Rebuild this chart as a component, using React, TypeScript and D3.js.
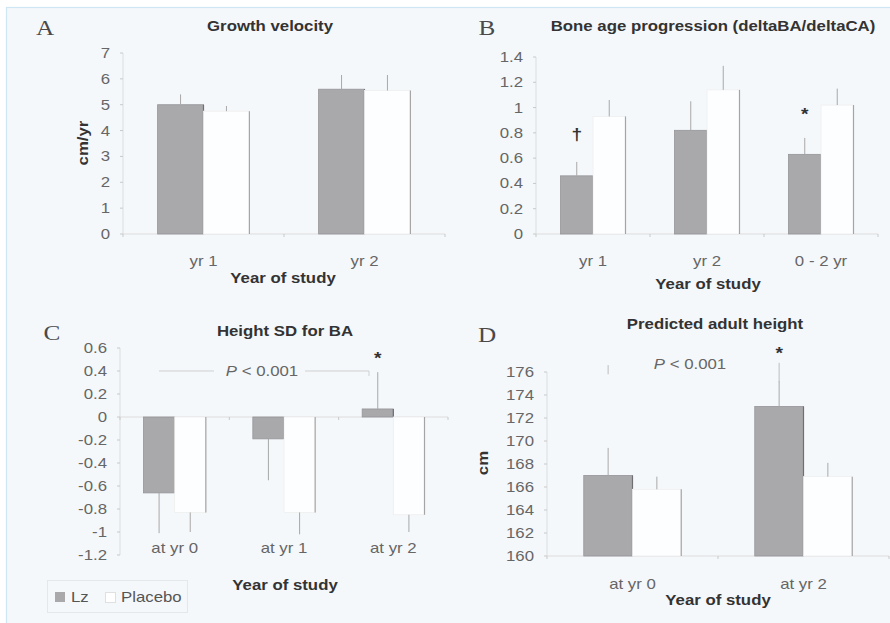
import * as d3 from 'd3';
import React from 'react';

const seriesNames = ['Lz', 'Placebo'];

// A - growth velocity (cm/yr)
const catsA = ['yr 1', 'yr 2'];
const lzA = [5.0, 5.6];
const lzErrA = [0.4, 0.55];
const plA = [4.75, 5.55];
const plErrA = [0.2, 0.6];
const ticksA = [0, 1, 2, 3, 4, 5, 6, 7];
const marksA = ['', ''];

// B - bone age progression
const catsB = ['yr 1', 'yr 2', '0 - 2 yr'];
const lzB = [0.46, 0.82, 0.63];
const lzErrB = [0.11, 0.23, 0.13];
const plB = [0.93, 1.14, 1.02];
const plErrB = [0.13, 0.19, 0.13];
const ticksB = [0, 0.2, 0.4, 0.6, 0.8, 1, 1.2, 1.4];
const marksB = ['†', '', '*'];

// C - height SD for BA
const catsC = ['at yr 0', 'at yr 1', 'at yr 2'];
const lzC = [-0.66, -0.19, 0.07];
const lzErrC = [0.35, 0.36, 0.32];
const plC = [-0.83, -0.83, -0.85];
const plErrC = [0.17, 0.19, 0.15];
const ticksC = [0.6, 0.4, 0.2, 0, -0.2, -0.4, -0.6, -0.8, -1, -1.2];
const marksC = ['', '', '*'];

// D - predicted adult height (cm)
const catsD = ['at yr 0', 'at yr 2'];
const lzD = [167.0, 173.0];
const lzErrD = [2.4, 2.2];
const plD = [165.8, 166.9];
const plErrD = [1.1, 1.2];
const lzFaintD = [[175.8, 176.6], [175.1, 176.8]];
const ticksD = [160, 162, 164, 166, 168, 170, 172, 174, 176];
const marksD = ['', '*'];

const SANS = '"Liberation Sans", Arial, sans-serif';
const SERIF = '"Liberation Serif", "DejaVu Serif", serif';
const SX = 1.2;
const LZ_FILL = '#a9a9ac';
const BG = '#f5f8fb';

function T({ x, y, size = 14, anchor = 'middle', weight = 'normal', fill = '#555', family = SANS, rotate = 0, style = 'normal', children }: any) {
  return (
    <text
      transform={`translate(${x},${y}) rotate(${rotate}) scale(${SX},1)`}
      textAnchor={anchor}
      fontFamily={family}
      fontSize={size}
      fontWeight={weight}
      fontStyle={style}
      fill={fill}
    >
      {children}
    </text>
  );
}

function Panel({ cfg }: any) {
  const x0 = d3.scaleBand<string>().domain(cfg.cats).range(cfg.xr).paddingInner(0.43).paddingOuter(0.215);
  const x1 = d3.scaleBand<string>().domain(seriesNames).range([0, x0.bandwidth()]);
  const y = d3.scaleLinear().domain(cfg.domain).range(cfg.yr);
  const base = Math.max(cfg.domain[0], Math.min(0, cfg.domain[1]));
  const bw = x1.bandwidth();
  const series = [
    { name: 'Lz', vals: cfg.lz, errs: cfg.lzErr },
    { name: 'Placebo', vals: cfg.pl, errs: cfg.plErr },
  ];
  const fmt = (d: number) => String(Math.round(d * 10) / 10);
  const step = x0.step();
  const bounds = d3.range(cfg.cats.length + 1).map((i) => cfg.xr[0] + i * step);

  return (
    <g>
      {/* axes */}
      <line x1={cfg.xr[0]} x2={cfg.xr[0]} y1={cfg.yr[0]} y2={cfg.yr[1]} stroke="#dcdcdc" />
      {cfg.ticks.map((t: number) => (
        <g key={t}>
          <line x1={cfg.xr[0] - 3} x2={cfg.xr[0]} y1={y(t)} y2={y(t)} stroke="#c8c8c8" />
          <T x={cfg.xr[0] - 13} y={y(t) + 5} anchor="end" fill="#666">{fmt(t)}</T>
        </g>
      ))}
      <line x1={cfg.xr[0]} x2={cfg.xr[1]} y1={y(base)} y2={y(base)} stroke="#dcdcdc" />
      {bounds.map((b: number, i: number) => (
        <line key={i} x1={b} x2={b} y1={y(base)} y2={y(base) + 3} stroke="#c8c8c8" />
      ))}

      {/* bars */}
      {series.map((s) =>
        cfg.cats.map((c: string, i: number) => {
          const v = s.vals[i];
          const bx = (x0(c) as number) + (x1(s.name) as number);
          const top = y(Math.max(v, base));
          const bot = y(Math.min(v, base));
          const lz = s.name === 'Lz';
          return (
            <g key={s.name + c}>
              <rect x={bx} y={top} width={bw} height={bot - top}
                fill={lz ? LZ_FILL : '#fdfeff'} stroke={lz ? '#959598' : '#eeeeee'} strokeWidth={0.8} />
              <line x1={bx + bw} x2={bx + bw} y1={top} y2={bot} stroke={lz ? '#6f6f72' : '#a5a5a5'} strokeWidth={1.2} />
            </g>
          );
        })
      )}

      {/* error bars */}
      {series.map((s) =>
        cfg.cats.map((c: string, i: number) => {
          const v = s.vals[i];
          const sign = v >= base ? 1 : -1;
          const cx = (x0(c) as number) + (x1(s.name) as number) + bw / 2;
          return (
            <line key={'e' + s.name + c} x1={cx} x2={cx} y1={y(v)} y2={y(v + sign * s.errs[i])}
              stroke="#a8a8a8" strokeWidth={1} />
          );
        })
      )}
      {cfg.faint &&
        cfg.faint.map((f: number[], i: number) => {
          const cx = (x0(cfg.cats[i]) as number) + (x1('Lz') as number) + bw / 2;
          return <line key={'f' + i} x1={cx} x2={cx} y1={y(f[0])} y2={y(f[1])} stroke="#bcbcbc" />;
        })}

      {/* significance marks */}
      {cfg.marks.map((m: string, i: number) => {
        if (!m) return null;
        const c = cfg.cats[i];
        const cx = (x0(c) as number) + (x1('Lz') as number) + bw / 2;
        const v = cfg.lz[i];
        const top = cfg.faint ? y(cfg.faint[i][1]) : y(v + cfg.lzErr[i]);
        const cy = top - cfg.markGap;
        return (
          <T key={'m' + i} x={cx} y={cy + (m === '*' ? 9 : 5)} size={16} weight="bold" fill="#333">{m}</T>
        );
      })}

      {/* category labels */}
      {cfg.cats.map((c: string) => (
        <T key={'l' + c} x={(x0(c) as number) + x0.bandwidth() / 2} y={cfg.labelY} fill="#666">{c}</T>
      ))}

      {/* titles */}
      <T x={cfg.title[0]} y={cfg.title[1]} weight="bold" fill="#333">{cfg.title[2]}</T>
      <T x={cfg.letter[0]} y={cfg.letter[1]} size={21} family={SERIF} fill="#4a4a4a">{cfg.letter[2]}</T>
      <T x={cfg.xTitle[0]} y={cfg.xTitle[1]} weight="bold" fill="#333">Year of study</T>
      {cfg.yTitle && (
        <T x={cfg.yTitle[0]} y={cfg.yTitle[1]} rotate={-90} weight="bold" fill="#333">{cfg.yTitle[2]}</T>
      )}
    </g>
  );
}

export default function App() {
  const panelA = {
    cats: catsA, lz: lzA, lzErr: lzErrA, pl: plA, plErr: plErrA, ticks: ticksA, marks: marksA,
    xr: [123, 445], yr: [234, 53], domain: [0, 7], labelY: 266, markGap: 25,
    title: [270, 31, 'Growth velocity'], letter: [45, 35, 'A'], xTitle: [283, 283], yTitle: [88, 143, 'cm/yr'],
  };
  const panelB = {
    cats: catsB, lz: lzB, lzErr: lzErrB, pl: plB, plErr: plErrB, ticks: ticksB, marks: marksB,
    xr: [536, 878], yr: [234, 57], domain: [0, 1.4], labelY: 266, markGap: 27,
    title: [713, 31, 'Bone age progression (deltaBA/deltaCA)'], letter: [487, 35, 'B'], xTitle: [708, 289],
  };
  const panelC = {
    cats: catsC, lz: lzC, lzErr: lzErrC, pl: plC, plErr: plErrC, ticks: ticksC, marks: marksC,
    xr: [120, 448], yr: [555, 348], domain: [-1.2, 0.6], labelY: 553, markGap: 17,
    title: [285, 336, 'Height SD for BA'], letter: [52, 340, 'C'], xTitle: [285, 590],
  };
  const panelD = {
    cats: catsD, lz: lzD, lzErr: lzErrD, pl: plD, plErr: plErrD, ticks: ticksD, marks: marksD, faint: lzFaintD,
    xr: [547, 889], yr: [556, 372], domain: [160, 176], labelY: 589, markGap: 13,
    title: [715, 329, 'Predicted adult height'], letter: [487, 342, 'D'], xTitle: [718, 605], yTitle: [488, 463, 'cm'],
  };

  // P bracket in panel C at the 0.4 level
  const yC = d3.scaleLinear().domain(panelC.domain).range(panelC.yr);
  const pY = yC(0.4);

  return (
    <svg width={890} height={623} style={{ position: 'absolute', left: 0, top: 0, background: '#fff' }}>
      <rect x={6.5} y={7.5} width={900} height={640} fill={BG} stroke="#cfe7f4" strokeWidth={1.2} />
      <Panel cfg={panelA} />
      <Panel cfg={panelB} />
      <Panel cfg={panelC} />
      <Panel cfg={panelD} />

      <line x1={159} x2={214} y1={pY} y2={pY} stroke="#cfcfcf" />
      <line x1={305} x2={369} y1={pY} y2={pY} stroke="#cfcfcf" />
      <line x1={369} x2={369} y1={pY} y2={pY + 5} stroke="#cfcfcf" />
      <text transform={`translate(262,${pY + 5}) scale(${SX},1)`} textAnchor="middle" fontFamily={SANS} fontSize={14} fill="#666">
        <tspan fontStyle="italic">P</tspan> &lt; 0.001
      </text>
      <text transform={`translate(690,369) scale(${SX},1)`} textAnchor="middle" fontFamily={SANS} fontSize={14} fill="#666">
        <tspan fontStyle="italic">P</tspan> &lt; 0.001
      </text>

      {/* legend */}
      <rect x={47.5} y={580.5} width={140} height={32} fill={BG} stroke="#e4e7eb" />
      <rect x={55} y={592} width={10} height={10} fill={LZ_FILL} />
      <T x={71} y={602} anchor="start" fill="#555">{seriesNames[0]}</T>
      <rect x={105.5} y={592.5} width={10} height={10} fill="#fff" stroke="#e0e0e0" />
      <T x={121} y={602} anchor="start" fill="#555">{seriesNames[1]}</T>
    </svg>
  );
}
